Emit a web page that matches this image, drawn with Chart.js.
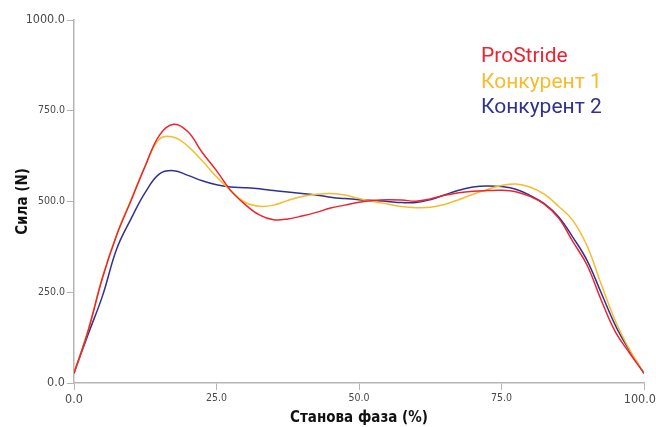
<!DOCTYPE html>
<html>
<head>
<meta charset="utf-8">
<script src="https://cdn.jsdelivr.net/npm/chart.js@4.4.1/dist/chart.umd.min.js"></script>
<style>
    html, body { margin: 0; padding: 0; background: #fff; }
    #wrap { width: 656px; height: 427px; }
</style>
</head>
<body>
<div id="wrap"><canvas id="chart-area" width="656" height="427"></canvas></div>
<script>
// stance phase (%) sampled every 2.5
var stancePhase = [0, 2.5, 5, 7.5, 10, 12.5, 15, 17.5, 20, 22.5, 25, 27.5, 30, 32.5, 35, 37.5, 40, 42.5, 45, 47.5,
    50, 52.5, 55, 57.5, 60, 62.5, 65, 67.5, 70, 72.5, 75, 77.5, 80, 82.5, 85, 87.5, 90, 92.5, 95, 97.5, 100];

var seriesNames = ["ProStride", "Конкурент 1", "Конкурент 2"];

var proStride = [27, 145, 290, 408, 502, 598, 683, 713, 692, 635, 585, 530, 492, 463, 450, 452, 460, 470, 482, 490,
    498, 503, 505, 504, 501, 507, 517, 524, 528, 530, 531, 527, 514, 493, 455, 390, 325, 228, 140, 82, 27];

var rival1 = [27, 147, 292, 410, 505, 598, 672, 677, 652, 612, 568, 530, 498, 487, 490, 503, 514, 520, 522, 518,
    508, 500, 493, 486, 483, 484, 492, 505, 520, 533, 544, 548, 540, 520, 487, 448, 378, 272, 170, 91, 27];

var rival2 = [27, 135, 240, 370, 452, 525, 576, 585, 572, 557, 546, 540, 538, 535, 530, 526, 522, 518, 512, 508,
    505, 503, 500, 497, 497, 505, 518, 531, 540, 543, 541, 534, 517, 494, 458, 402, 338, 248, 158, 88, 27];

var lineColors = ["#ec2430", "#f8bb2c", "#2f3290"];

var tickFamily = '"Liberation Sans Narrow", "DejaVu Sans Condensed", sans-serif';

function toPoints(values) {
    return values.map(function (v, i) {
        return { x: stancePhase[i], y: v };
    });
}

function tickFont(ctx) {
    var scale = ctx.scale;
    var v = ctx.tick ? ctx.tick.value : null;
    var big = (v === scale.min || v === scale.max);
    return { family: tickFamily, size: big ? 12.5 : 10.5 };
}

// legend drawn inside the plot, top right
var innerLegend = {
    id: 'innerLegend',
    afterDraw: function (chart) {
        var ctx = chart.ctx;
        ctx.save();
        ctx.font = '21px Roboto, "Noto Sans", sans-serif';
        ctx.textBaseline = 'alphabetic';
        ctx.textAlign = 'left';
        chart.data.datasets.forEach(function (ds, i) {
            ctx.fillStyle = ds.borderColor;
            ctx.fillText(ds.label, 481, 62 + i * 25.7);
        });
        ctx.restore();
    }
};

// keep the last x label inside the canvas (right aligned at the edge)
var lastLabelFit = {
    id: 'lastLabelFit',
    beforeDraw: function (chart) {
        var items = chart.scales.x.getLabelItems();
        var last = items[items.length - 1];
        if (last) {
            last.options.textAlign = 'right';
            last.options.translation[0] = chart.width;
        }
    }
};

var datasets = [proStride, rival1, rival2].map(function (vals, i) {
    return {
        label: seriesNames[i],
        data: toPoints(vals),
        borderColor: lineColors[i],
        backgroundColor: lineColors[i],
        borderWidth: 1.5,
        pointRadius: 0,
        fill: false,
        tension: 0.4
    };
});

var config = {
    type: 'line',
    data: { datasets: datasets },
    options: {
        responsive: false,
        animation: false,
        layout: { padding: { top: 20, right: 12, left: 0, bottom: 0 } },
        plugins: {
            legend: { display: false },
            tooltip: { enabled: false }
        },
        scales: {
            x: {
                type: 'linear',
                min: 0,
                max: 100,
                afterFit: function (s) {
                    s.height = 44;
                    s.paddingLeft = 0;
                    s.paddingRight = 0;
                },
                border: { color: '#b5b5b5', width: 1.5 },
                grid: { drawOnChartArea: false, color: '#b5b5b5', tickLength: 7 },
                ticks: {
                    stepSize: 25,
                    maxRotation: 0,
                    padding: 2,
                    color: '#4a4a4a',
                    font: tickFont,
                    callback: function (v) { return Number(v).toFixed(1); }
                },
                title: {
                    display: true,
                    text: 'Станова фаза (%)',
                    color: '#111',
                    padding: 0,
                    font: { family: '"DejaVu Sans Condensed", sans-serif', size: 15, weight: 'bold' }
                }
            },
            y: {
                min: 0,
                max: 1000,
                afterFit: function (s) { s.width = 74; },
                border: { color: '#b5b5b5', width: 1.5 },
                grid: { drawOnChartArea: false, color: '#b5b5b5', tickLength: 7 },
                ticks: {
                    stepSize: 250,
                    padding: 2,
                    color: '#4a4a4a',
                    font: tickFont,
                    callback: function (v) { return Number(v).toFixed(1); }
                },
                title: {
                    display: true,
                    text: 'Сила (N)',
                    color: '#111',
                    padding: { top: 14, bottom: 0 },
                    font: { family: '"DejaVu Sans Condensed", sans-serif', size: 15, weight: 'bold' }
                }
            }
        }
    },
    plugins: [innerLegend, lastLabelFit]
};

var ctx = document.getElementById('chart-area').getContext('2d');
window.forceChart = new Chart(ctx, config);
</script>
</body>
</html>
